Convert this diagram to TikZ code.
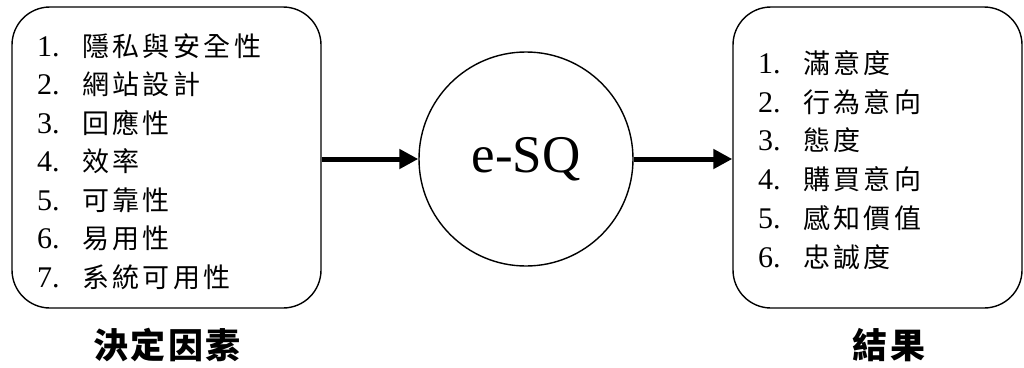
\documentclass[tikz,border=0pt]{standalone}
\usepackage{fontspec}
\setmainfont{Liberation Serif}
\newfontfamily\cjk{Noto Sans CJK TC}[LetterSpace=12.5]
\newfontfamily\cjklab{Noto Sans CJK TC}[LetterSpace=6]
\usetikzlibrary{arrows.meta}
\newcommand{\itm}[2]{\makebox[45pt][l]{\fontsize{30}{36}\selectfont #1}{\cjk\fontsize{27}{32}\selectfont #2}}
\tikzset{
  boxstyle/.style={draw, line width=1.4pt, rounded corners=38pt, inner sep=0pt},
  circstyle/.style={draw, circle, line width=1.4pt, minimum size=214pt, inner sep=0pt},
  itemstyle/.style={anchor=west, inner sep=0pt},
  labstyle/.style={inner sep=0pt, font=\cjklab\bfseries\fontsize{35}{40}\selectfont},
  arr/.style={line width=5pt, -{Triangle[length=19pt,width=19pt]}},
}
\begin{document}
\begin{tikzpicture}[x=1pt,y=-1pt]
\useasboundingbox (0,0) rectangle (1024,367);
\node[boxstyle, minimum width=309pt, minimum height=301pt] (lbox) at (166.5,157.5) {};
\node[boxstyle, minimum width=289pt, minimum height=301pt] (rbox) at (877.5,157.5) {};
\node[circstyle] (esq) at (526,159) {};
\node[inner sep=0pt, font=\fontsize{53}{60}\selectfont] (esqt) at (526,159) {e-SQ};
\draw[arr] (lbox.east |- esq.west) -- (esq.west);
\draw[arr] (esq.east) -- (rbox.west |- esq.east);
% left items
\node[itemstyle] (l1) at (37,46) {\itm{1.}{隱私與安全性}};
\node[itemstyle] (l2) at (37,84.5) {\itm{2.}{網站設計}};
\node[itemstyle] (l3) at (37,123) {\itm{3.}{回應性}};
\node[itemstyle] (l4) at (37,161.5) {\itm{4.}{效率}};
\node[itemstyle] (l5) at (37,200) {\itm{5.}{可靠性}};
\node[itemstyle] (l6) at (37,238.5) {\itm{6.}{易用性}};
\node[itemstyle] (l7) at (37,277) {\itm{7.}{系統可用性}};
% right items
\node[itemstyle] (r1) at (758,63) {\itm{1.}{滿意度}};
\node[itemstyle] (r2) at (758,101.8) {\itm{2.}{行為意向}};
\node[itemstyle] (r3) at (758,140.6) {\itm{3.}{態度}};
\node[itemstyle] (r4) at (758,179.4) {\itm{4.}{購買意向}};
\node[itemstyle] (r5) at (758,218.2) {\itm{5.}{感知價值}};
\node[itemstyle] (r6) at (758,257) {\itm{6.}{忠誠度}};
% labels
\node[labstyle] (lab1) at (167,345) {決定因素};
\node[labstyle] (lab2) at (889,345) {結果};
\end{tikzpicture}
\end{document}
